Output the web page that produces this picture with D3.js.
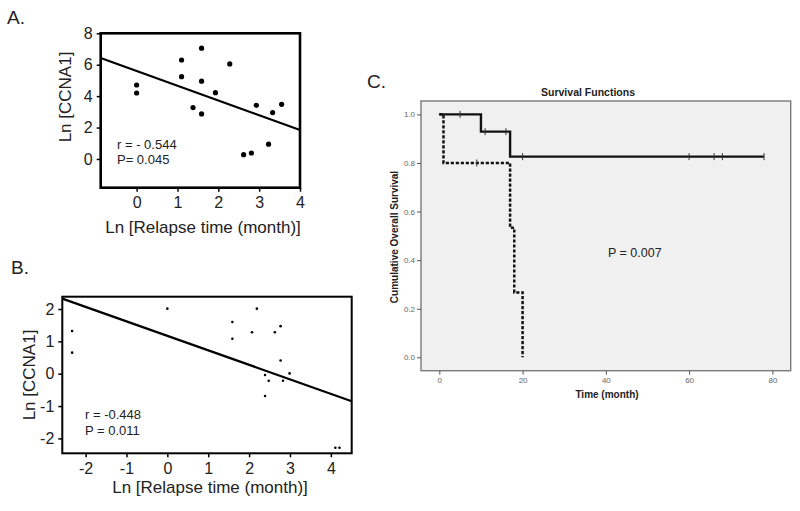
<!DOCTYPE html>
<html><head><meta charset="utf-8">
<script src="https://cdn.jsdelivr.net/npm/d3@7"></script>
<style>body{margin:0;background:#fff}svg{display:block;font-family:"Liberation Sans",Arial,sans-serif}</style>
</head><body><svg id="c" width="800" height="511"></svg>
<script>
// Panel A data
const aX = [0.0, 0.0, 1.10, 1.10, 1.59, 1.59, 1.38, 1.59, 1.93, 2.28, 2.62, 2.81, 2.93, 3.23, 3.33, 3.55];
const aY = [4.71, 4.20, 6.30, 5.24, 7.05, 4.95, 3.27, 2.87, 4.22, 6.05, 0.27, 0.38, 3.42, 0.94, 2.95, 3.48];
const aFit = [5.6, -0.94]; // intercept, slope
const aXTicks = [0, 1, 2, 3, 4];
const aYTicks = [0, 2, 4, 6, 8];
// Panel B data
const bX = [-2.33, -2.33, 0.0, 1.59, 1.59, 2.07, 2.19, 2.63, 2.77, 2.77, 2.39, 2.48, 2.83, 2.99, 2.39, 4.11, 4.21];
const bY = [1.32, 0.65, 2.01, 1.60, 1.08, 1.28, 2.01, 1.28, 1.47, 0.41, -0.04, -0.22, -0.22, 0.01, -0.69, -2.29, -2.29];
const bFit = [1.17, -0.448];
const bXTicks = [-2, -1, 0, 1, 2, 3, 4];
const bYTicks = [-2, -1, 0, 1, 2];
// Panel C data (Kaplan-Meier steps)
const solidT = [0, 10, 17, 78];
const solidS = [1.0, 0.929, 0.826, 0.826];
const solidCensor = [5, 11, 16, 20, 60, 66, 68, 78];
const dashT = [0, 1, 17, 18, 20];
const dashS = [1.0, 0.8, 0.533, 0.267, 0.0];
const dashCensor = [9];
const cXTicks = [0, 20, 40, 60, 80];
const cYTicks = [0.0, 0.2, 0.4, 0.6, 0.8, 1.0];

const svg = d3.select("#c");

function scatterPanel(o) {
  const g = svg.append("g");
  const x = d3.scaleLinear().domain(o.xd).range(o.xr);
  const y = d3.scaleLinear().domain(o.yd).range(o.yr);
  g.append("rect").attr("x", o.xr[0]).attr("y", o.yr[1]).attr("width", o.xr[1]-o.xr[0]).attr("height", o.yr[0]-o.yr[1])
    .attr("fill", "none").attr("stroke", "#000").attr("stroke-width", o.frameW);
  const fmt = d => String(d);
  const ax = g.append("g").attr("transform", `translate(0,${o.yr[0]})`)
    .call(d3.axisBottom(x).tickValues(o.xt).tickSize(4).tickPadding(5).tickFormat(fmt));
  const ay = g.append("g").attr("transform", `translate(${o.xr[0]},0)`)
    .call(d3.axisLeft(y).tickValues(o.yt).tickSize(4).tickPadding(4).tickFormat(fmt));
  [ax, ay].forEach(a => {
    a.select(".domain").remove();
    a.selectAll("line").attr("stroke", "#000").attr("stroke-width", 1.5);
    a.selectAll("text").attr("font-size", o.tickFs).attr("fill", "#222").attr("font-family", "Liberation Sans, Arial, sans-serif");
  });
  const fx0 = o.xd[0], fx1 = o.xd[1];
  g.append("line").attr("x1", x(fx0)).attr("y1", y(o.fit[0] + o.fit[1]*fx0))
    .attr("x2", x(fx1)).attr("y2", y(o.fit[0] + o.fit[1]*fx1))
    .attr("stroke", "#000").attr("stroke-width", 2.2);
  g.selectAll("circle.pt").data(o.xs.map((v, i) => [v, o.ys[i]])).enter().append("circle")
    .attr("cx", d => x(d[0])).attr("cy", d => y(d[1])).attr("r", o.r).attr("fill", "#000");
  return {g, x, y};
}

// Panel A
const A = scatterPanel({xd: [-0.88, 4], xr: [100.7, 300], yd: [-1.83, 8], yr: [187.7, 33.3],
  xt: aXTicks, yt: aYTicks, xs: aX, ys: aY, fit: aFit, r: 2.6, frameW: 2.6, tickFs: 16});
svg.append("text").attr("x", 7).attr("y", 24).attr("font-size", 19).attr("fill", "#222").text("A.");
svg.append("text").attr("x", 117).attr("y", 148.5).attr("font-size", 13).attr("fill", "#222").text("r = - 0.544");
svg.append("text").attr("x", 117).attr("y", 163.5).attr("font-size", 13).attr("fill", "#222").text("P= 0.045");
svg.append("text").attr("x", 203).attr("y", 233).attr("text-anchor", "middle").attr("font-size", 17).attr("fill", "#222").text("Ln [Relapse time (month)]");
svg.append("text").attr("transform", "translate(71,97) rotate(-90)").attr("text-anchor", "middle").attr("font-size", 17).attr("fill", "#222").text("Ln [CCNA1]");

// Panel B
const B = scatterPanel({xd: [-2.57, 4.51], xr: [62.3, 351.7], yd: [-2.46, 2.38], yr: [453.3, 296.7],
  xt: bXTicks, yt: bYTicks, xs: bX, ys: bY, fit: bFit, r: 1.3, frameW: 2, tickFs: 16});
svg.append("text").attr("x", 11).attr("y", 274).attr("font-size", 19).attr("fill", "#222").text("B.");
svg.append("text").attr("x", 85).attr("y", 418.5).attr("font-size", 13).attr("fill", "#222").text("r = -0.448");
svg.append("text").attr("x", 85).attr("y", 434.5).attr("font-size", 13).attr("fill", "#222").text("P = 0.011");
svg.append("text").attr("x", 210).attr("y", 493).attr("text-anchor", "middle").attr("font-size", 17).attr("fill", "#222").text("Ln [Relapse time (month)]");
svg.append("text").attr("transform", "translate(35,375) rotate(-90)").attr("text-anchor", "middle").attr("font-size", 17).attr("fill", "#222").text("Ln [CCNA1]");

// Panel C
const gc = svg.append("g");
const xc = d3.scaleLinear().domain([-4.4, 84.4]).range([421, 790.7]);
const yc = d3.scaleLinear().domain([-0.055, 1.055]).range([370.7, 101]);
gc.append("rect").attr("x", 421).attr("y", 101).attr("width", 369.7).attr("height", 269.7)
  .attr("fill", "#f0f0f0").attr("stroke", "#7a7a7a").attr("stroke-width", 1.4);
const cax = gc.append("g").attr("transform", "translate(0,370.7)")
  .call(d3.axisBottom(xc).tickValues(cXTicks).tickSize(4).tickPadding(3).tickFormat(d3.format("d")));
const cay = gc.append("g").attr("transform", "translate(421,0)")
  .call(d3.axisLeft(yc).tickValues(cYTicks).tickSize(4).tickPadding(2).tickFormat(d3.format(".1f")));
[cax, cay].forEach(a => {
  a.select(".domain").remove();
  a.selectAll("line").attr("stroke", "#555").attr("stroke-width", 1);
  a.selectAll("text").attr("font-size", 8).attr("fill", "#666").attr("font-family", "Liberation Sans, Arial, sans-serif");
});
const step = d3.line().x(d => xc(d[0])).y(d => yc(d[1])).curve(d3.curveStepAfter);
gc.append("path").attr("d", step(dashT.map((t, i) => [t, dashS[i]])))
  .attr("fill", "none").attr("stroke", "#111").attr("stroke-width", 2.5).attr("stroke-dasharray", "3.2,1.8");
gc.append("path").attr("d", step(solidT.map((t, i) => [t, solidS[i]])))
  .attr("fill", "none").attr("stroke", "#111").attr("stroke-width", 2.4);
function survAt(T, S, t) { let s = S[0]; for (let i = 0; i < T.length; i++) if (T[i] <= t) s = S[i]; return s; }
gc.selectAll("line.cs").data(solidCensor).enter().append("line")
  .attr("x1", d => xc(d)).attr("x2", d => xc(d))
  .attr("y1", d => yc(survAt(solidT, solidS, d)) - 3.5).attr("y2", d => yc(survAt(solidT, solidS, d)) + 3.5)
  .attr("stroke", "#333").attr("stroke-width", 1);
gc.selectAll("line.cd").data(dashCensor).enter().append("line")
  .attr("x1", d => xc(d)).attr("x2", d => xc(d))
  .attr("y1", d => yc(survAt(dashT, dashS, d)) - 3.5).attr("y2", d => yc(survAt(dashT, dashS, d)) + 3.5)
  .attr("stroke", "#333").attr("stroke-width", 1);
svg.append("text").attr("x", 588).attr("y", 96).attr("text-anchor", "middle").attr("font-size", 10.5).attr("font-weight", "bold").attr("fill", "#222").text("Survival Functions");
svg.append("text").attr("x", 607).attr("y", 398).attr("text-anchor", "middle").attr("font-size", 10).attr("font-weight", "bold").attr("fill", "#222").text("Time (month)");
svg.append("text").attr("transform", "translate(398,237) rotate(-90)").attr("text-anchor", "middle").attr("font-size", 10).attr("font-weight", "bold").attr("fill", "#222").text("Cumulative Overall Survival");
svg.append("text").attr("x", 608).attr("y", 257).attr("font-size", 12.5).attr("fill", "#222").text("P = 0.007");
svg.append("text").attr("x", 367).attr("y", 88).attr("font-size", 19).attr("fill", "#222").text("C.");
</script></body></html>
